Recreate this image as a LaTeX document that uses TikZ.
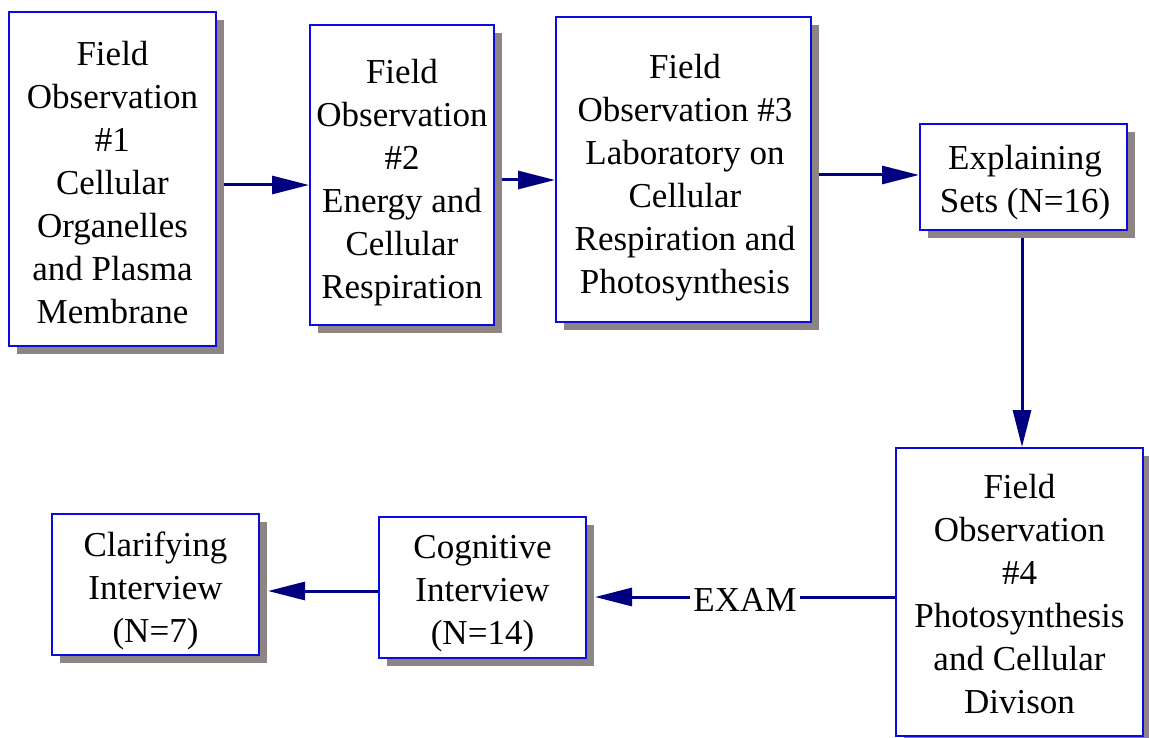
\documentclass[tikz,border=0pt]{standalone}
\usepackage{fontspec}
\setmainfont{Liberation Serif}
\usetikzlibrary{arrows.meta,shadows,calc,backgrounds}
\definecolor{boxblue}{RGB}{10,10,225}
\definecolor{navyline}{RGB}{0,0,128}
\definecolor{shadowgrey}{RGB}{142,132,132}
\begin{document}
\begin{tikzpicture}[x=1pt,y=-1pt,
  box/.style={draw=boxblue,line width=2pt,fill=white,inner sep=0pt,
    drop shadow={shadow xshift=8pt,shadow yshift=-8pt,fill=shadowgrey,opacity=1}},
  txt/.style={align=center,inner sep=0pt,font=\fontsize{35}{43}\selectfont},
  conn/.style={draw=navyline,line width=3pt,-{Triangle[length=37pt,width=18pt]}}]
\useasboundingbox (0,0) rectangle (1149,738);
% boxes
\node[box,minimum width=207pt,minimum height=334pt] (b1) at (112.5,179) {};
\node[box,minimum width=184pt,minimum height=300pt] (b2) at (402,175) {};
\node[box,minimum width=255pt,minimum height=305pt] (b3) at (683.5,169.5) {};
\node[box,minimum width=207pt,minimum height=106pt] (b4) at (1023.5,177) {};
\node[box,minimum width=247pt,minimum height=288pt] (b5) at (1019.5,592) {};
\node[box,minimum width=207pt,minimum height=141pt] (b6) at (482.5,587.5) {};
\node[box,minimum width=207pt,minimum height=141pt] (b7) at (155.5,584.5) {};
% texts
\node[txt] (t1) at (112.5,183) {Field\\Observation\\\#1\\Cellular\\Organelles\\and Plasma\\Membrane};
\node[txt] (t2) at (402,182.5) {Field\\Observation\\\#2\\Energy and\\Cellular\\Respiration};
\node[txt] (t3) at (685,177.5) {Field\\Observation \#3\\Laboratory on\\Cellular\\Respiration and\\Photosynthesis};
\node[txt] (t4) at (1025,182.5) {Explaining\\Sets (N=16)};
\node[txt] (t5) at (1019.5,594.5) {Field\\Observation\\\#4\\Photosynthesis\\and Cellular\\Divison};
\node[txt] (t6) at (482.5,594) {Cognitive\\Interview\\(N=14)};
\node[txt] (t7) at (155.5,591) {Clarifying\\Interview\\(N=7)};
% connector levels
\coordinate (y12) at (0,185);
\coordinate (y23) at (0,180);
\coordinate (y34) at (0,175);
\coordinate (x45) at (1022,0);
\coordinate (y56) at (0,597);
\coordinate (y67) at (0,591);
\begin{pgfonlayer}{background}
\draw[conn] (b1.east |- y12) -- (b2.west |- y12);
\draw[conn] (b2.east |- y23) -- (b3.west |- y23);
\draw[conn] (b3.east |- y34) -- (b4.west |- y34);
\draw[conn] (x45 |- b4.south) -- (x45 |- b5.north);
\draw[conn] (b5.west |- y56) -- ($(b6.east |- y56)+(8,0)$);
\draw[conn] (b6.west |- y67) -- ($(b7.east |- y67)+(8,0)$);
\end{pgfonlayer}
\node[txt,fill=white,inner xsep=3pt,inner ysep=2pt] (exam) at (745,600) {EXAM};
\end{tikzpicture}
\end{document}
